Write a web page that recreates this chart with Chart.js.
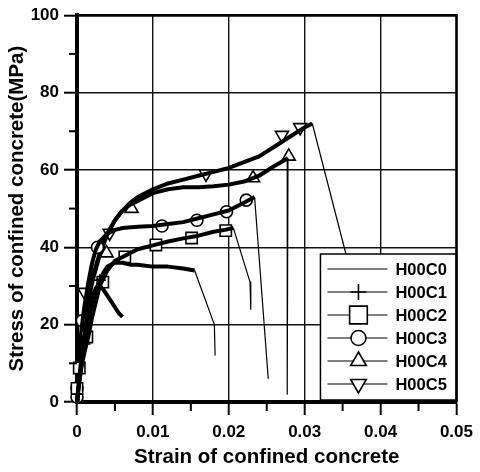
<!DOCTYPE html>
<html>
<head>
<meta charset="utf-8">
<script src="https://cdn.jsdelivr.net/npm/chart.js@4.4.1/dist/chart.umd.min.js"></script>
<style>
  html, body { margin: 0; padding: 0; background: #fff; }
</style>
</head>
<body>
<canvas id="stressChart" width="480" height="472"></canvas>
<script>
// Stress-strain curves of confined concrete

const seriesNames = ["H00C0", "H00C1", "H00C2", "H00C3", "H00C4", "H00C5"];

const xTickLabels = ["0", "0.01", "0.02", "0.03", "0.04", "0.05"];
const yTickLabels = ["0", "20", "40", "60", "80", "100"];

const c0Strain = [0, 0.0003, 0.0006, 0.001, 0.0015, 0.002, 0.0025, 0.003, 0.0035, 0.004, 0.0045, 0.005, 0.0055, 0.006];
const c0Stress = [0, 6, 12, 18, 24, 27.5, 29.5, 30, 29, 27.5, 26, 24.5, 23, 22];

const c1Strain = [0, 0.0003, 0.0007, 0.001, 0.0015, 0.002, 0.0025, 0.003, 0.0035, 0.004, 0.005, 0.006, 0.007, 0.008, 0.01, 0.012, 0.014, 0.0155, 0.0181, 0.0182];
const c1Stress = [0, 5, 11, 15, 21, 26, 29, 31.5, 33.5, 35, 36, 36, 35.5, 35.5, 35, 35, 34.5, 34, 20, 12];
const c1MarkStrain = [0, 0.001, 0.003];
const c1MarkStress = [2, 15, 31.5];

const c2Strain = [0, 0.0002, 0.0005, 0.001, 0.0015, 0.002, 0.003, 0.004, 0.005, 0.006, 0.008, 0.01, 0.012, 0.014, 0.016, 0.018, 0.0195, 0.0206, 0.0228, 0.0229];
const c2Stress = [0, 4, 8.5, 13, 17, 22, 30, 34, 36.5, 37.5, 39.5, 40.5, 41.5, 42.3, 43, 44, 44.5, 45, 31, 24];
const c2MarkStrain = [0, 0.0003, 0.0013, 0.0034, 0.0063, 0.0104, 0.0151, 0.0196];
const c2MarkStress = [3.5, 8.8, 16.8, 31, 37.5, 40.6, 42.4, 44.3];

const c3Strain = [0, 0.0001, 0.0003, 0.0006, 0.001, 0.0015, 0.002, 0.0025, 0.003, 0.004, 0.005, 0.006, 0.008, 0.01, 0.012, 0.014, 0.016, 0.018, 0.02, 0.022, 0.0234, 0.0252];
const c3Stress = [0, 5, 12, 19, 25, 31, 36, 39.5, 41.5, 43.5, 44.5, 45, 45.3, 45.5, 46, 46.5, 47.5, 48.5, 49.5, 51.5, 53, 6];
const c3MarkStrain = [0, 0, 0.0007, 0.0027, 0.0112, 0.0158, 0.0197, 0.0223];
const c3MarkStress = [1.3, 3.6, 21, 40, 45.5, 47, 49.2, 52.2];

const c4Strain = [0, 0.0002, 0.0005, 0.001, 0.0015, 0.002, 0.003, 0.004, 0.005, 0.006, 0.007, 0.008, 0.01, 0.012, 0.014, 0.016, 0.018, 0.02, 0.022, 0.024, 0.026, 0.0278, 0.0277];
const c4Stress = [0, 5, 11, 19, 26, 31, 38, 43.5, 47, 49.5, 51, 52, 54, 55, 55.5, 55.5, 55.8, 56.2, 57, 58.5, 61, 63, 2];
const c4MarkStrain = [0.0039, 0.0072, 0.0232, 0.0279];
const c4MarkStress = [38.5, 50, 57.9, 63.5];

const c5Strain = [0, 0.0002, 0.0005, 0.001, 0.0015, 0.002, 0.003, 0.004, 0.005, 0.006, 0.007, 0.008, 0.01, 0.012, 0.014, 0.016, 0.018, 0.02, 0.022, 0.024, 0.026, 0.028, 0.03, 0.031, 0.0385];
const c5Stress = [0, 5, 12, 22, 28, 32, 38.5, 43.5, 47, 49.5, 51.5, 53, 55, 56.5, 57.5, 58.5, 59.5, 60.5, 62, 63.5, 66, 68.5, 71, 72, 15];
const c5MarkStrain = [0.001, 0.0043, 0.017, 0.027, 0.0294];
const c5MarkStress = [28.4, 43.7, 59, 69, 71];


const curveStrain = [c0Strain, c1Strain, c2Strain, c3Strain, c4Strain, c5Strain];
const curveStress = [c0Stress, c1Stress, c2Stress, c3Stress, c4Stress, c5Stress];
const markStrain = [[], c1MarkStrain, c2MarkStrain, c3MarkStrain, c4MarkStrain, c5MarkStrain];
const markStress = [[], c1MarkStress, c2MarkStress, c3MarkStress, c4MarkStress, c5MarkStress];

// marker looks: [pointStyle, radius in plot, radius in legend, rotation]
const markerLook = [
    null,
    ["cross", 6, 8, 0],
    ["rect", 8, 12.5, 0],
    ["circle", 6, 7.5, 0],
    ["triangle", 7.5, 9, 0],
    ["triangle", 7.5, 9, 180]
];

const FONT = "'Liberation Sans', Arial, Helvetica, sans-serif";


// steep unloading parts are drawn thin, loading parts thick
function segWidth(ctx) {
    const drop = ctx.p0.parsed.y - ctx.p1.parsed.y;
    const run = Math.abs(ctx.p1.parsed.x - ctx.p0.parsed.x);
    return (drop > 0 && drop > 4000 * run) ? 1.2 : 4;
}

const datasets = [];

seriesNames.forEach((name, s) => {

    datasets.push({
        label: name,
        data: curveStrain[s].map((x, i) => ({ x: x, y: curveStress[s][i] })),
        showLine: true,
        borderColor: "#000",
        borderWidth: 4,
        borderJoinStyle: "round",
        pointRadius: 0,
        segment: { borderWidth: segWidth },
        clip: 2
    });

    const look = markerLook[s];
    if (look) {
        datasets.push({
            label: name + " markers",
            data: markStrain[s].map((x, i) => ({ x: x, y: markStress[s][i] })),
            showLine: false,
            pointStyle: look[0],
            pointRadius: look[1],
            pointRotation: look[3],
            pointBorderWidth: 1.6,
            pointBorderColor: "#000",
            pointBackgroundColor: "#fff",
            clip: false
        });
    }
});


// boxed legend in the lower right corner of the plot
const boxLegend = {
    id: "boxLegend",
    afterDatasetsDraw(chart) {
        const { ctx, chartArea: a } = chart;
        const w = 136, rowH = 23;
        const h = 15 + rowH * (seriesNames.length - 1) + 16;
        const x0 = a.right - w, y0 = a.bottom - 2 - h;

        ctx.save();
        ctx.fillStyle = "#fff";
        ctx.fillRect(x0, y0, w, h);
        ctx.strokeStyle = "#000";
        ctx.lineWidth = 1.5;
        ctx.strokeRect(x0, y0, w, h);

        ctx.font = "bold 16.5px " + FONT;
        ctx.textBaseline = "middle";
        ctx.textAlign = "left";

        seriesNames.forEach((name, s) => {
            const cy = y0 + 15 + s * rowH;
            ctx.strokeStyle = "#000";
            ctx.lineWidth = 1.2;
            ctx.beginPath();
            ctx.moveTo(x0 + 7, cy);
            ctx.lineTo(x0 + 67, cy);
            ctx.stroke();

            const look = markerLook[s];
            if (look) {
                ctx.fillStyle = "#fff";
                ctx.lineWidth = 1.6;
                Chart.helpers.drawPoint(ctx, {
                    pointStyle: look[0],
                    radius: look[2],
                    rotation: look[3],
                    borderWidth: 1.6
                }, x0 + 38, cy);
            }

            ctx.fillStyle = "#000";
            ctx.fillText(name, x0 + 75, cy + 1);
        });
        ctx.restore();
    }
};


// minor tick marks and the top / right frame
const frameAndMinor = {
    id: "frameAndMinor",
    afterDraw(chart) {
        const { ctx, chartArea: a } = chart;
        ctx.save();
        ctx.strokeStyle = "#000";
        ctx.lineWidth = 2;

        ["x", "y"].forEach(id => {
            const sc = chart.scales[id];
            const t = sc.ticks;
            for (let i = 0; i < t.length - 1; i++) {
                const p = sc.getPixelForValue((t[i].value + t[i + 1].value) / 2);
                ctx.beginPath();
                if (id === "x") {
                    ctx.moveTo(p, a.bottom);
                    ctx.lineTo(p, a.bottom + 9);
                } else {
                    ctx.moveTo(a.left, p);
                    ctx.lineTo(a.left - 8, p);
                }
                ctx.stroke();
            }
        });

        ctx.lineWidth = 2.5;
        ctx.beginPath();
        ctx.moveTo(a.left, a.top);
        ctx.lineTo(a.right, a.top);
        ctx.lineTo(a.right, a.bottom);
        ctx.stroke();
        ctx.restore();
    }
};


new Chart(document.getElementById("stressChart"), {

    type: "scatter",

    data: { datasets: datasets },

    plugins: [boxLegend, frameAndMinor],

    options: {

        responsive: false,
        animation: false,
        devicePixelRatio: 1,

        layout: {
            padding: { left: 5, right: 19, top: 15, bottom: 2 }
        },

        plugins: {
            legend: { display: false },
            tooltip: { enabled: false }
        },

        scales: {

            x: {
                type: "linear",
                min: 0,
                max: 0.05,
                afterFit(scale) { scale.height = 68; },
                border: { display: true, color: "#000", width: 4 },
                grid: {
                    color: "#111",
                    lineWidth: 1.4,
                    drawTicks: true,
                    tickLength: 13,
                    tickWidth: 2,
                    tickColor: "#000"
                },
                ticks: {
                    stepSize: 0.01,
                    padding: 7,
                    maxRotation: 0,
                    color: "#000",
                    font: { family: FONT, size: 17, weight: "bold" },
                    callback: (v, i) => xTickLabels[i]
                },
                title: {
                    display: true,
                    text: "Strain of confined concrete",
                    color: "#000",
                    padding: 0,
                    font: { family: FONT, size: 20.5, weight: "bold" }
                }
            },

            y: {
                type: "linear",
                min: 0,
                max: 100,
                afterFit(scale) { scale.width = 72; },
                border: { display: true, color: "#000", width: 4 },
                grid: {
                    color: "#111",
                    lineWidth: 1.4,
                    drawTicks: true,
                    tickLength: 13,
                    tickWidth: 2,
                    tickColor: "#000"
                },
                ticks: {
                    stepSize: 20,
                    padding: 5,
                    color: "#000",
                    font: { family: FONT, size: 17, weight: "bold" },
                    callback: (v, i) => yTickLabels[i]
                },
                title: {
                    display: true,
                    text: "Stress of confined concrete(MPa)",
                    color: "#000",
                    padding: 0,
                    font: { family: FONT, size: 20.5, weight: "bold" }
                }
            }
        }
    }
});
</script>
</body>
</html>
